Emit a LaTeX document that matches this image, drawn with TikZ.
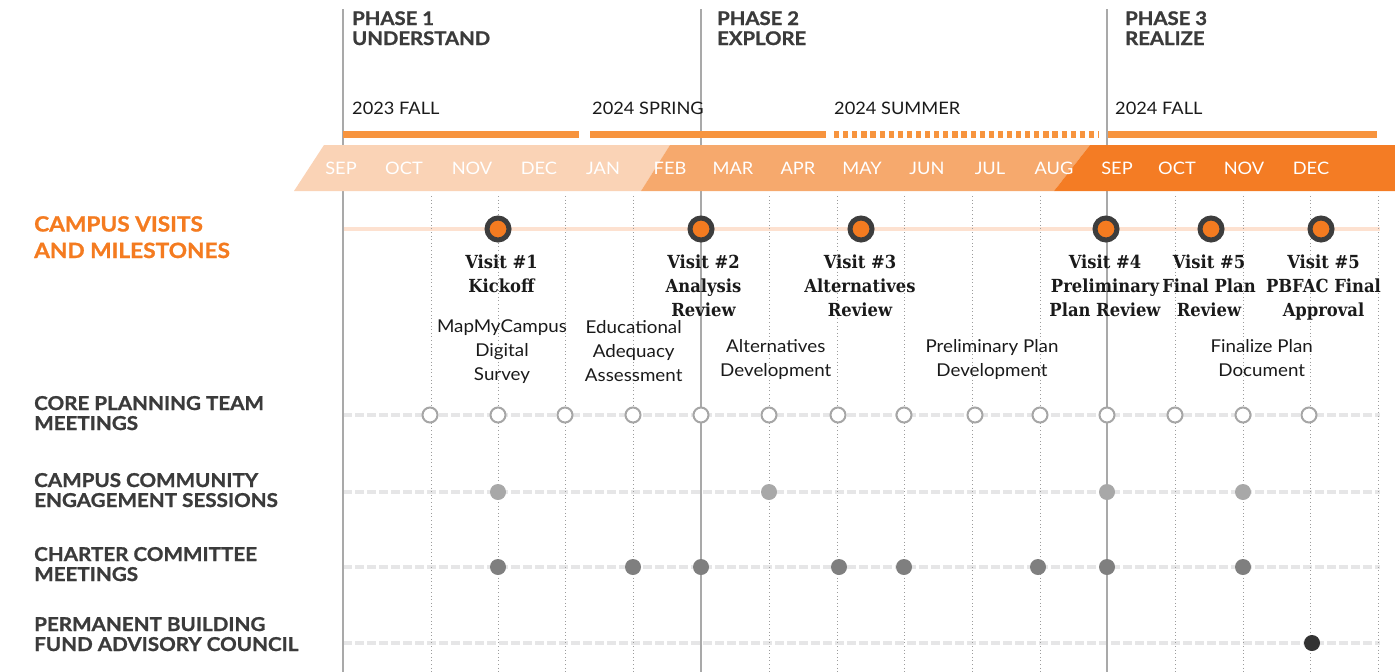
\documentclass[tikz,border=0pt]{standalone}
\usepackage{fontspec}
\setmainfont[FakeStretch=1.06]{Lato}
\newfontfamily\headfont[FakeStretch=1.08,BoldFeatures={FakeBold=1.1}]{Lato}
\newfontfamily\slab[FakeStretch=0.91]{DejaVu Serif}
\definecolor{phasegray}{HTML}{A9A9A9}
\definecolor{gridgray}{HTML}{9C9C9C}
\definecolor{rowgray}{HTML}{E6E6E7}
\definecolor{vorange}{HTML}{F47B20}
\definecolor{ringgray}{HTML}{3D3D3D}
\definecolor{coregray}{HTML}{A6A6A6}
\definecolor{enggray}{HTML}{A8A8A8}
\definecolor{chartgray}{HTML}{7F7F7F}
\definecolor{pbgray}{HTML}{333333}
\definecolor{headgray}{HTML}{3B3B3B}
\definecolor{inkblack}{HTML}{1A1A1A}
\definecolor{seasonbar}{HTML}{F7943E}
\definecolor{bandlight}{HTML}{FAD3B6}
\definecolor{bandmid}{HTML}{F6A96D}
\definecolor{banddark}{HTML}{F47C24}
\definecolor{mileline}{HTML}{FDE1D0}
\tikzset{
  phaseln/.style={draw=phasegray, line width=2.6pt},
  gridln/.style={draw=gridgray, line width=0.9pt, dash pattern=on 1pt off 2.6pt},
  rowln/.style={draw=rowgray, line width=4.5pt, dash pattern=on 9pt off 3pt},
  mileln/.style={draw=mileline, line width=4pt},
  seasonln/.style={draw=seasonbar, line width=7.5pt},
  visitdot/.style={circle, fill=vorange, draw=ringgray, line width=5pt, minimum size=22pt, inner sep=0pt},
  coredot/.style={circle, fill=white, draw=coregray, line width=2pt, minimum size=15pt, inner sep=0pt},
  engdot/.style={circle, fill=enggray, minimum size=16pt, inner sep=0pt},
  chartdot/.style={circle, fill=chartgray, minimum size=16pt, inner sep=0pt},
  pbdot/.style={circle, fill=pbgray, minimum size=16pt, inner sep=0pt},
  % multi-line labels are placed by the baseline of their last line
  rowlabel/.style={anchor=base west, inner sep=0pt, align=left, text=headgray,
    font=\fontsize{19.1}{20}\selectfont\headfont\bfseries},
  milelabel/.style={anchor=base west, inner sep=0pt, align=left, text=vorange,
    font=\fontsize{21}{26.5}\selectfont\headfont\bfseries},
  phaselabel/.style={anchor=base west, inner sep=0pt, align=left, text=headgray,
    font=\fontsize{18.8}{20}\selectfont\headfont\bfseries},
  seasonlabel/.style={anchor=base west, inner sep=0pt, text=inkblack,
    font=\fontsize{17.2}{20}\selectfont},
  monthlabel/.style={anchor=center, inner sep=0pt, text=white,
    font=\fontsize{17.2}{20}\selectfont},
  visitlabel/.style={anchor=base, inner sep=0pt, align=center, text=inkblack,
    font=\fontsize{18}{24}\selectfont\slab\bfseries},
  desclabel/.style={anchor=base, inner sep=0pt, align=center, text=inkblack,
    font=\fontsize{17.7}{24}\selectfont},
}
\begin{document}
\begin{tikzpicture}[x=1pt, y=-1pt]
\useasboundingbox (0,0) rectangle (1395,672);

% row guide lines
\foreach \r/\y in {core/415, eng/492, chart/567, pb/643} {
  \coordinate (\r L) at (343,\y);
  \coordinate (\r R) at (1380,\y);
  \draw[rowln] (\r L) -- (\r R);
}
% milestone track
\coordinate (msL) at (343,229);
\coordinate (msR) at (1380,229);
\draw[mileln] (msL) -- (msR);

% monthly dotted grid
\foreach \x [count=\i] in {431,498,565,633,769,837,904,972,1040,1175,1243,1310,1378} {
  \coordinate (gt\i) at (\x,196);
  \coordinate (gb\i) at (\x,672);
  \draw[gridln] (gt\i) -- (gb\i);
}

% phase dividers
\foreach \x [count=\i] in {343,701,1107} {
  \coordinate (pt\i) at (\x,9);
  \coordinate (pb\i) at (\x,672);
  \draw[phaseln] (pt\i) -- (pb\i);
}

% month band
\fill[bandlight] (294,191) -- (324,145) -- (670,145) -- (641,191) -- cycle;
\fill[bandmid] (641,191) -- (670,145) -- (1090,145) -- (1054,191) -- cycle;
\fill[banddark] (1054,191) -- (1090,145) -- (1395,145) -- (1395,191) -- cycle;

\foreach \m/\x [count=\i] in {SEP/341,OCT/404,NOV/472,DEC/539,JAN/603,FEB/670,MAR/733,APR/798,
    MAY/862,JUN/927,JUL/990,AUG/1054,SEP/1117,OCT/1177,NOV/1244,DEC/1311}
  \node[monthlabel] (m\i) at (\x,168) {\m};

% season bars
\coordinate (s1a) at (343,134.3); \coordinate (s1b) at (579,134.3);
\coordinate (s2a) at (590,134.3); \coordinate (s2b) at (826,134.3);
\coordinate (s3a) at (834,134.3); \coordinate (s3b) at (1098,134.3);
\coordinate (s4a) at (1108,134.3); \coordinate (s4b) at (1377,134.3);
\draw[seasonln] (s1a) -- (s1b);
\draw[seasonln] (s2a) -- (s2b);
\draw[seasonln, dash pattern=on 5.2pt off 3.9pt] (s3a) -- (s3b);
\draw[seasonln] (s4a) -- (s4b);

\node[seasonlabel] (fall23) at (352,114) {2023 FALL};
\node[seasonlabel] (spring24) at (592,114) {2024 SPRING};
\node[seasonlabel] (summer24) at (834,114) {2024 SUMMER};
\node[seasonlabel] (fall24) at (1115,114) {2024 FALL};

% phase headings
\node[phaselabel] (ph1) at (352,45) {PHASE 1\\UNDERSTAND};
\node[phaselabel] (ph2) at (717,45) {PHASE 2\\EXPLORE};
\node[phaselabel] (ph3) at (1125,45) {PHASE 3\\REALIZE};

% row headings
\node[milelabel] (hmile) at (34,258) {CAMPUS VISITS\\AND MILESTONES};
\node[rowlabel] (hcore) at (34,430) {CORE PLANNING TEAM\\MEETINGS};
\node[rowlabel] (heng) at (34,507) {CAMPUS COMMUNITY\\ENGAGEMENT SESSIONS};
\node[rowlabel] (hchart) at (34,581) {CHARTER COMMITTEE\\MEETINGS};
\node[rowlabel] (hpb) at (34,651) {PERMANENT BUILDING\\FUND ADVISORY COUNCIL};

% campus visits
\foreach \x [count=\i] in {498,701,861,1106,1211,1321}
  \node[visitdot] (v\i) at (\x,229) {};

\node[visitlabel] (vl1) at (501.5,292.3) {Visit \#1\\Kickoff};
\node[visitlabel] (vl2) at (703.5,316.3) {Visit \#2\\Analysis\\Review};
\node[visitlabel] (vl3) at (860,316.3) {Visit \#3\\Alternatives\\Review};
\node[visitlabel] (vl4) at (1105,316.3) {Visit \#4\\Preliminary\\Plan Review};
\node[visitlabel] (vl5) at (1209,316.3) {Visit \#5\\Final Plan\\Review};
\node[visitlabel] (vl6) at (1323.5,316.3) {Visit \#5\\PBFAC Final\\Approval};

% work items
\node[desclabel] (d1) at (502,380.7) {MapMyCampus\\Digital\\Survey};
\node[desclabel] (d2) at (633.7,381.3) {Educational\\Adequacy\\Assessment};
\node[desclabel] (d3) at (775.8,376.7) {Alternatives\\Development};
\node[desclabel] (d4) at (992,376.7) {Preliminary Plan\\Development};
\node[desclabel] (d5) at (1261.7,376.7) {Finalize Plan\\Document};

% meeting rows
\foreach \x [count=\i] in {430,498,565,633,701,769,838,904,975,1040,1107,1175,1243,1309}
  \node[coredot] (c\i) at (\x,415) {};
\foreach \x [count=\i] in {498,769,1107,1243}
  \node[engdot] (e\i) at (\x,492) {};
\foreach \x [count=\i] in {498,633,701,839,904,1038,1107,1243}
  \node[chartdot] (k\i) at (\x,567) {};
\node[pbdot] (p1) at (1312,643) {};
\end{tikzpicture}
\end{document}
